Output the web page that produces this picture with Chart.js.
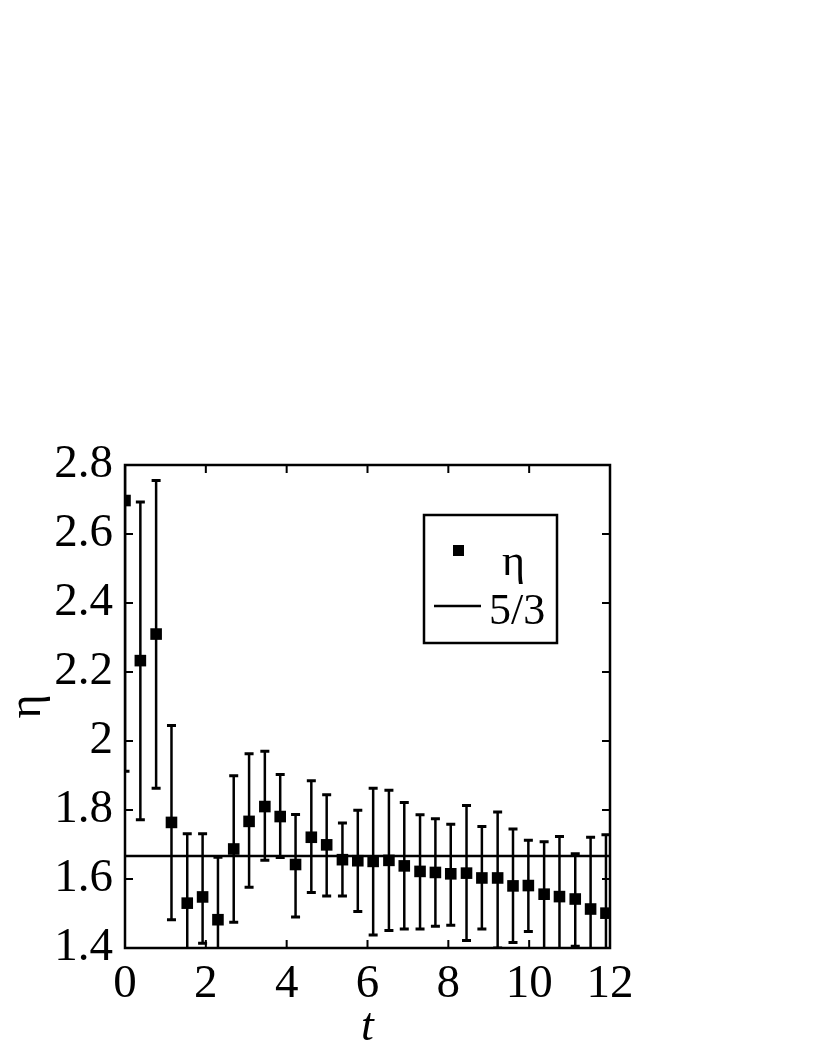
<!DOCTYPE html>
<html>
<head>
<meta charset="utf-8">
<script src="https://cdn.jsdelivr.net/npm/chart.js@4.4.0/dist/chart.umd.min.js"></script>
<style>
    html, body { margin: 0; padding: 0; background: #fff; }
    #wrap { width: 822px; height: 1064px; }
</style>
</head>
<body>
<div id="wrap"><canvas id="etaChart" width="822" height="1064"></canvas></div>
<script>
// values
const times = [0, 0.38, 0.77, 1.15, 1.54, 1.92, 2.3, 2.69, 3.07, 3.46, 3.84, 4.22, 4.61, 4.99, 5.38, 5.76,
    6.14, 6.53, 6.91, 7.3, 7.68, 8.06, 8.45, 8.83, 9.22, 9.6, 9.98, 10.37, 10.75, 11.14, 11.52, 11.9];
const etaValues = [2.697, 2.233, 2.31, 1.764, 1.53, 1.548, 1.482, 1.687, 1.767, 1.81, 1.781, 1.642, 1.721, 1.699, 1.656, 1.653,
    1.651, 1.654, 1.638, 1.622, 1.619, 1.615, 1.617, 1.603, 1.603, 1.58, 1.581, 1.556, 1.549, 1.542, 1.513, 1.501];
const etaUpper = [3.48, 2.693, 2.755, 2.045, 1.731, 1.731, 1.663, 1.899, 1.963, 1.97, 1.903, 1.787, 1.885, 1.844, 1.762, 1.799,
    1.863, 1.857, 1.822, 1.786, 1.775, 1.759, 1.813, 1.752, 1.794, 1.745, 1.712, 1.708, 1.723, 1.673, 1.721, 1.728];
const etaLower = [1.912, 1.772, 1.863, 1.482, 1.33, 1.414, 1.3, 1.475, 1.576, 1.654, 1.662, 1.49, 1.561, 1.551, 1.551, 1.506,
    1.438, 1.451, 1.455, 1.455, 1.463, 1.466, 1.422, 1.455, 1.4, 1.416, 1.448, 1.39, 1.37, 1.405, 1.3, 1.27];
const refLevel = 5 / 3;
const refLabel = '5/3';
const xTicks = [0, 2, 4, 6, 8, 10, 12];
const yTicks = [1.4, 1.6, 1.8, 2.0, 2.2, 2.4, 2.6, 2.8];

const SERIF = "'Liberation Serif', 'Times New Roman', serif";

const framePlugin = {
    id: 'frame',
    beforeDatasetsDraw(chart) {
        const { ctx, chartArea: a, scales: { x, y } } = chart;
        ctx.save();
        ctx.beginPath();
        ctx.rect(a.left, a.top, a.right - a.left, a.bottom - a.top);
        ctx.clip();
        ctx.strokeStyle = '#000';
        times.forEach((t, i) => {
            const px = x.getPixelForValue(t);
            const top = y.getPixelForValue(etaUpper[i]);
            const bot = y.getPixelForValue(etaLower[i]);
            ctx.lineWidth = 2.5;
            ctx.beginPath();
            ctx.moveTo(px, top); ctx.lineTo(px, bot);
            ctx.stroke();
            ctx.lineWidth = 3;
            ctx.beginPath();
            ctx.moveTo(px - 4.5, top); ctx.lineTo(px + 4.5, top);
            ctx.moveTo(px - 4.5, bot); ctx.lineTo(px + 4.5, bot);
            ctx.stroke();
        });
        ctx.restore();
    },
    afterDraw(chart) {
        const { ctx, chartArea: a, scales: { x, y } } = chart;
        ctx.save();
        ctx.strokeStyle = '#000';
        ctx.lineWidth = 2.5;
        ctx.strokeRect(a.left, a.top, a.right - a.left, a.bottom - a.top);

        // inward ticks on all four sides
        ctx.lineWidth = 2;
        ctx.beginPath();
        xTicks.forEach(v => {
            const px = x.getPixelForValue(v);
            ctx.moveTo(px, a.bottom); ctx.lineTo(px, a.bottom - 8);
            ctx.moveTo(px, a.top); ctx.lineTo(px, a.top + 8);
        });
        yTicks.forEach(v => {
            const py = y.getPixelForValue(v);
            ctx.moveTo(a.left, py); ctx.lineTo(a.left + 8, py);
            ctx.moveTo(a.right, py); ctx.lineTo(a.right - 8, py);
        });
        ctx.stroke();

        // legend box
        const lx = a.left + 299, ly = a.top + 50;
        ctx.lineWidth = 2.5;
        ctx.strokeRect(lx, ly, 133, 128);
        ctx.fillStyle = '#000';
        ctx.fillRect(lx + 29, ly + 30, 11, 11);
        ctx.beginPath();
        ctx.moveTo(lx + 10, ly + 91); ctx.lineTo(lx + 57, ly + 91);
        ctx.stroke();
        ctx.font = '44px ' + SERIF;
        ctx.textBaseline = 'alphabetic';
        ctx.textAlign = 'left';
        ctx.fillText('η', lx + 78, ly + 60);
        ctx.fillText(refLabel, lx + 65, ly + 109);
        ctx.restore();
    }
};

new Chart(document.getElementById('etaChart'), {
    type: 'scatter',
    data: {
        datasets: [
            {
                label: refLabel,
                type: 'line',
                data: [{ x: xTicks[0], y: refLevel }, { x: xTicks[xTicks.length - 1], y: refLevel }],
                borderColor: '#000',
                borderWidth: 2.5,
                pointRadius: 0,
                fill: false
            },
            {
                label: 'η',
                data: times.map((t, i) => ({ x: t, y: etaValues[i] })),
                pointStyle: 'rect',
                pointRadius: 8.2,
                backgroundColor: '#000',
                borderColor: '#000',
                borderWidth: 0
            }
        ]
    },
    options: {
        responsive: false,
        animation: false,
        layout: { padding: { top: 465, right: 212, left: 0, bottom: 0 } },
        plugins: { legend: { display: false }, tooltip: { enabled: false } },
        scales: {
            x: {
                type: 'linear',
                min: 0, max: 12,
                afterBuildTicks: s => { s.ticks = xTicks.map(v => ({ value: v })); },
                afterFit: s => { s.height = 116; },
                grid: { display: false, drawTicks: false },
                border: { display: false },
                ticks: { color: '#000', font: { family: SERIF, size: 47 }, padding: 8, maxRotation: 0 },
                title: { display: true, text: 't', color: '#000', font: { family: SERIF, size: 46, style: 'italic' }, padding: { top: 0, bottom: 8 } }
            },
            y: {
                min: 1.4, max: 2.8,
                afterBuildTicks: s => { s.ticks = yTicks.map(v => ({ value: v })); },
                afterFit: s => { s.width = 125; },
                grid: { display: false, drawTicks: false },
                border: { display: false },
                ticks: { color: '#000', font: { family: SERIF, size: 47 }, padding: 12, callback: v => String(Number(v.toFixed(1))) },
                title: { display: true, text: 'η', color: '#000', font: { family: SERIF, size: 46 }, padding: { top: 0, bottom: 0 } }
            }
        }
    },
    plugins: [framePlugin]
});
</script>
</body>
</html>
